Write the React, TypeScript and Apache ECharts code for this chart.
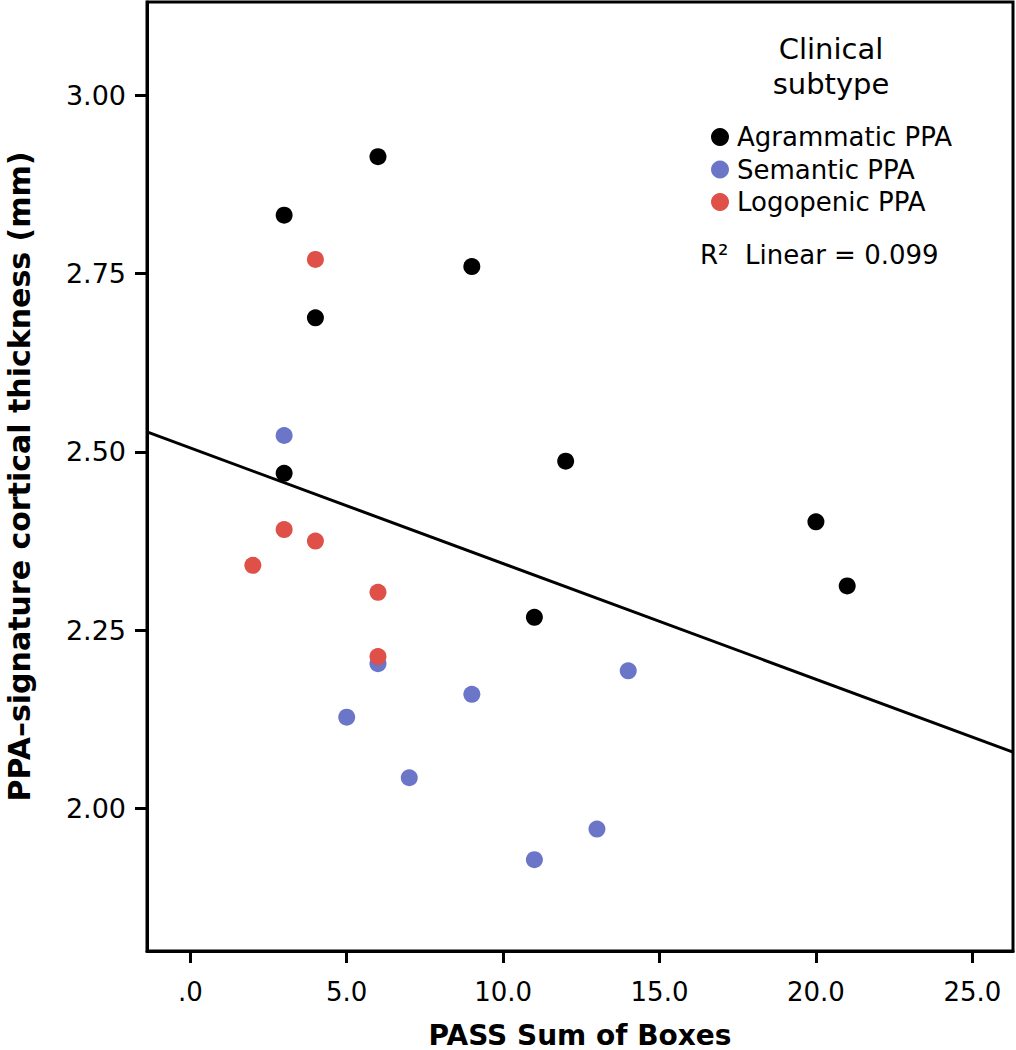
import React, { useEffect, useRef } from "react";
import * as echarts from "echarts";

const FONT = "DejaVu Sans";

// Agrammatic PPA
const agX = [6, 3, 9, 4, 3, 12, 20, 21, 11];
const agY = [2.914, 2.832, 2.76, 2.688, 2.47, 2.487, 2.402, 2.312, 2.268];
// Semantic PPA
const semX = [3, 6, 14, 9, 5, 7, 13, 11];
const semY = [2.523, 2.203, 2.193, 2.16, 2.128, 2.043, 1.971, 1.928];
// Logopenic PPA
const logX = [4, 3, 4, 2, 6, 6];
const logY = [2.77, 2.391, 2.375, 2.341, 2.303, 2.213];
// Fit line (R2 linear) endpoints read at the plot edges
const fitX = [-1.384, 26.3];
const fitY = [2.528, 2.079];

const xTicks = [0, 5, 10, 15, 20, 25];
const yTicks = [2.0, 2.25, 2.5, 2.75, 3.0];

const seriesNames = ["Agrammatic PPA", "Semantic PPA", "Logopenic PPA"];
const seriesColors = ["#000000", "#6b76c9", "#de5048"];

const pairs = (xs: number[], ys: number[]) => xs.map((x, i) => [x, ys[i]]);

export default function App() {
  const ref = useRef<HTMLDivElement>(null);
  useEffect(() => {
    const chart = echarts.init(ref.current!, null, { renderer: "svg" });
    const scatterData = [pairs(agX, agY), pairs(semX, semY), pairs(logX, logY)];
    chart.setOption({
      animation: false,
      backgroundColor: "#ffffff",
      grid: {
        left: 147,
        right: 3,
        top: 2,
        bottom: 99,
        show: true,
        borderColor: "#000",
        borderWidth: 3,
        backgroundColor: "transparent",
        containLabel: false,
        outerBoundsMode: "none",
      },
      xAxis: {
        type: "value",
        min: -1.384,
        max: 26.3,
        name: "PASS Sum of Boxes",
        nameLocation: "middle",
        nameGap: 70,
        nameTextStyle: { fontFamily: FONT, fontSize: 28, lineHeight: 28, fontWeight: "bold", color: "#000" },
        axisLine: { show: true, onZero: false, lineStyle: { color: "#000", width: 3 } },
        axisTick: { show: true, length: 12, lineStyle: { color: "#000", width: 3 }, customValues: xTicks },
        axisLabel: {
          customValues: xTicks,
          margin: 28,
          fontFamily: FONT,
          fontSize: 26,
          color: "#000",
          formatter: (v: number) => (v === 0 ? ".0" : v.toFixed(1)),
        },
        splitLine: { show: false },
      },
      yAxis: {
        type: "value",
        min: 1.8,
        max: 3.131,
        name: "PPA\u2013signature cortical thickness (mm)",
        nameLocation: "middle",
        nameGap: 112,
        nameTextStyle: { fontFamily: FONT, fontSize: 30, lineHeight: 32, fontWeight: "bold", color: "#000" },
        axisLine: { show: true, onZero: false, lineStyle: { color: "#000", width: 3 } },
        axisTick: { show: true, length: 12, lineStyle: { color: "#000", width: 3 }, customValues: yTicks },
        axisLabel: {
          customValues: yTicks,
          margin: 21,
          fontFamily: FONT,
          fontSize: 27,
          color: "#000",
          formatter: (v: number) => v.toFixed(2),
        },
        splitLine: { show: false },
      },
      legend: {
        orient: "vertical",
        left: 706,
        top: 119,
        itemWidth: 18,
        itemHeight: 18,
        itemGap: 6.5,
        icon: "circle",
        data: seriesNames,
        textStyle: { fontFamily: FONT, fontSize: 26, color: "#000", padding: [0, 0, 0, 3] },
      },
      graphic: [
        {
          type: "text",
          x: 831,
          y: 49,
          style: { text: "Clinical", fontFamily: FONT, fontSize: 29, fill: "#000", align: "center", verticalAlign: "middle" },
        },
        {
          type: "text",
          x: 831,
          y: 84,
          style: { text: "subtype", fontFamily: FONT, fontSize: 29, fill: "#000", align: "center", verticalAlign: "middle" },
        },
        {
          type: "text",
          x: 700,
          y: 255,
          style: { text: "R\u00B2  Linear = 0.099", fontFamily: FONT, fontSize: 26, fill: "#000", align: "left", verticalAlign: "middle" },
        },
      ],
      series: [
        ...seriesNames.map((name, i) => ({
          name,
          type: "scatter",
          data: scatterData[i],
          symbol: "circle",
          symbolSize: 17,
          itemStyle: { color: seriesColors[i], opacity: 1 },
        })),
        {
          name: "fit",
          type: "line",
          data: pairs(fitX, fitY),
          showSymbol: false,
          symbol: "none",
          lineStyle: { color: "#000", width: 3 },
          clip: true,
        },
      ],
    });
    return () => chart.dispose();
  }, []);
  return (
    <div
      ref={ref}
      style={{ position: "absolute", left: 0, top: 0, width: 1016, height: 1050, background: "#fff" }}
    />
  );
}
